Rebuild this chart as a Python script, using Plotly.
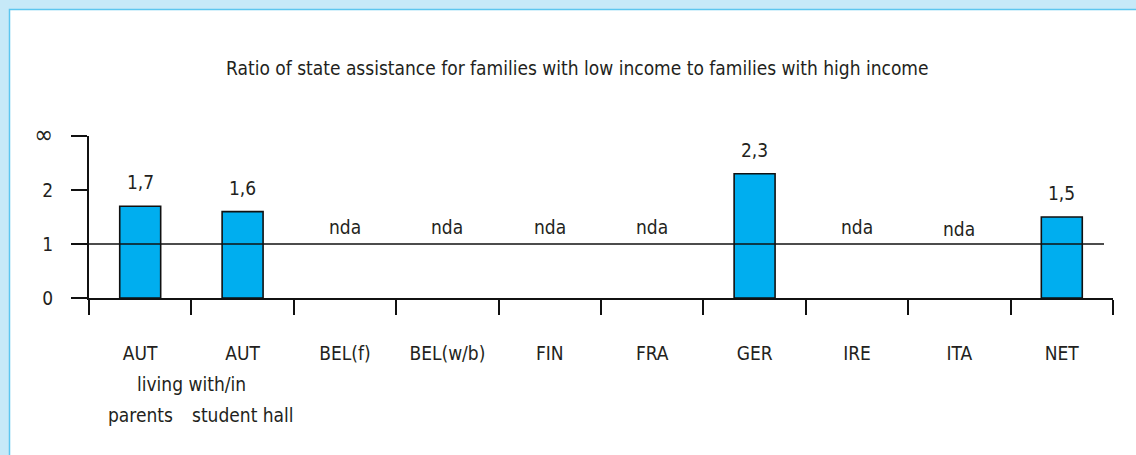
import plotly.graph_objects as go

# ---- data ----
countries = ["AUT", "AUT", "BEL(f)", "BEL(w/b)", "FIN", "FRA", "GER", "IRE", "ITA", "NET"]
ratios = [1.7, 1.6, None, None, None, None, 2.3, None, None, 1.5]
value_labels = ["1,7", "1,6", "nda", "nda", "nda", "nda", "2,3", "nda", "nda", "1,5"]
y_tickvals = [0, 1, 2, 3]
y_ticktext = ["0", "1", "2", "<span style='font-size:25px'>\u221e</span>"]
reference_value = 1
title_text = "Ratio of state assistance for families with low income to families with high income"

FONT = "'DejaVu Sans Condensed', 'Liberation Sans Narrow', Arial, sans-serif"
TXT = "#231f20"
FS = 19

xs = list(range(len(countries)))

fig = go.Figure()
fig.add_trace(go.Bar(
    x=xs, y=ratios, width=0.4,
    marker=dict(color="#00aeef", line=dict(color="#111111", width=1.6)),
    hoverinfo="skip", showlegend=False,
))

annotations = []
for i, (v, lab) in enumerate(zip(ratios, value_labels)):
    if v is None:
        annotations.append(dict(x=i, y=reference_value, xref="x", yref="y", text=lab,
                                showarrow=False, yanchor="middle", yshift=17 if countries[i] != "ITA" else 15,
                                font=dict(family=FONT, size=FS, color=TXT)))
    else:
        annotations.append(dict(x=i, y=v, xref="x", yref="y", text=lab,
                                showarrow=False, yanchor="middle", yshift=24,
                                font=dict(family=FONT, size=FS, color=TXT)))

# sub-labels for the two AUT categories
annotations.append(dict(x=0.5, y=0, xref="x", yref="paper", text="living with/in", showarrow=False,
                        yanchor="middle", yshift=-86, font=dict(family=FONT, size=FS, color=TXT)))
annotations.append(dict(x=0, y=0, xref="x", yref="paper", text="parents", showarrow=False,
                        yanchor="middle", yshift=-117, font=dict(family=FONT, size=FS, color=TXT)))
annotations.append(dict(x=1, y=0, xref="x", yref="paper", text="student hall", showarrow=False,
                        yanchor="middle", yshift=-117, font=dict(family=FONT, size=FS, color=TXT)))
# title
annotations.append(dict(x=(577 - 89) / 1024, y=(298 - 68) / 162, xref="paper", yref="paper",
                        text=title_text, showarrow=False, xanchor="center", yanchor="middle",
                        font=dict(family=FONT, size=FS, color=TXT)))

shapes = [
    # white panel with light-blue border
    dict(type="rect", xref="paper", yref="paper", layer="below",
         x0=(9.5 - 89) / 1024, x1=(1200 - 89) / 1024,
         y0=(298 - 520) / 162, y1=(298 - 9.5) / 162,
         fillcolor="white", line=dict(color="#5cc6ef", width=1.5)),
    # reference line at ratio 1
    dict(type="line", xref="paper", yref="y", layer="above",
         x0=(73 - 89) / 1024, x1=(1104 - 89) / 1024,
         y0=reference_value, y1=reference_value,
         line=dict(color="#111111", width=1.6)),
]

fig.update_layout(
    width=1136, height=455,
    margin=dict(l=89, r=23, t=136, b=157, pad=0),
    paper_bgcolor="#c6e9f8", plot_bgcolor="white",
    font=dict(family=FONT, size=FS, color=TXT),
    annotations=annotations, shapes=shapes,
    bargap=0.6,
)
fig.update_xaxes(
    range=[-0.5, 9.5], tickvals=xs, ticktext=countries, ticks="",
    showline=True, linecolor="#111111", linewidth=2,
    showgrid=False, zeroline=False,
    ticklabelstandoff=37,
    tickfont=dict(family=FONT, size=FS, color=TXT),
    minor=dict(ticks="outside", ticklen=15, tickwidth=2, tickcolor="#111111",
               tick0=-0.5, dtick=1, showgrid=False),
)
fig.update_yaxes(
    range=[0, 3], tickvals=y_tickvals, ticktext=y_ticktext,
    ticks="outside", ticklen=16, tickwidth=2, tickcolor="#111111",
    showline=True, linecolor="#111111", linewidth=2,
    showgrid=False, zeroline=False,
    ticklabelstandoff=14,
    tickfont=dict(family=FONT, size=FS, color=TXT),
)

fig.write_html(
    "out.html",
    config={"displayModeBar": False},
    post_script="document.body.style.margin='0';document.body.style.overflow='hidden';",
)
